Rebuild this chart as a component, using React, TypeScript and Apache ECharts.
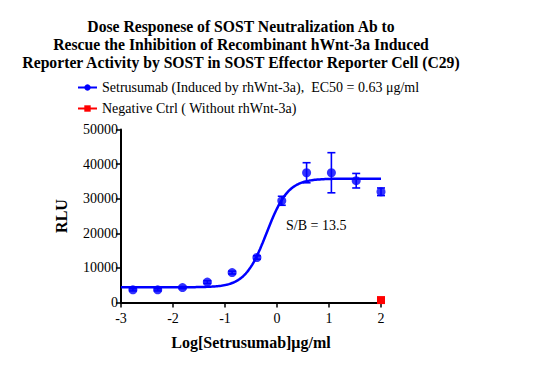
import React, { useEffect, useRef } from "react";
import * as echarts from "echarts";

const logDose = [-2.771, -2.294, -1.817, -1.34, -0.863, -0.386, 0.092, 0.569, 1.046, 1.523, 2.0];
const rluMean = [3650, 3650, 4300, 5900, 8650, 13000, 29400, 37500, 37500, 35200, 32000];
const rluErr = [300, 300, 300, 400, 400, 500, 1300, 2900, 5800, 2100, 1100];
const negCtrlX = [2.0];
const negCtrlY = [700];
// 4PL fit parameters
const fitBottom = 4400;
const fitTop = 35800;
const fitLogEC50 = -0.2;
const fitHill = 2.1;
const curveRange = [-3, 2];
const xTicks = [-3, -2, -1, 0, 1, 2];
const yTicks = [0, 10000, 20000, 30000, 40000, 50000];

const FONT = "'Liberation Serif', 'Times New Roman', serif";
const BLUE = "#0000ff";
const RED = "#ff0000";
const NAME1 = "Setrusumab (Induced by rhWnt-3a),  EC50 = 0.63 μg/ml";
const NAME2 = "Negative Ctrl ( Without rhWnt-3a)";

function fitCurve() {
  const pts: number[][] = [];
  const n = 200;
  for (let i = 0; i <= n; i++) {
    const x = curveRange[0] + ((curveRange[1] - curveRange[0]) * i) / n;
    const y = fitBottom + (fitTop - fitBottom) / (1 + Math.pow(10, (fitLogEC50 - x) * fitHill));
    pts.push([x, y]);
  }
  return pts;
}

export default function App() {
  const ref = useRef<HTMLDivElement>(null);
  useEffect(() => {
    document.body.style.margin = "0";
    if (!ref.current) return;
    const chart = echarts.init(ref.current, null, { renderer: "svg" });
    const errData = logDose.map((x, i) => [x, rluMean[i] - rluErr[i], rluMean[i] + rluErr[i]]);
    chart.setOption({
      animation: false,
      backgroundColor: "#ffffff",
      title: {
        text: "Dose Responese of SOST Neutralization Ab to\nRescue the Inhibition of Recombinant hWnt-3a Induced\nReporter Activity by SOST in SOST Effector Reporter Cell (C29)",
        left: 236,
        top: 12,
        textAlign: "center",
        textStyle: { fontFamily: FONT, fontWeight: "bold", fontSize: 15.7, lineHeight: 18, color: "#000" },
      },
      legend: {
        orient: "vertical",
        left: 72,
        top: 75,
        itemWidth: 19,
        itemHeight: 8,
        itemGap: 6,
        textStyle: { fontFamily: FONT, fontSize: 14, lineHeight: 15, color: "#000" },
        data: [{ name: NAME1 }, { name: NAME2 }],
      },
      grid: { left: 121, right: 178, top: 129.5, bottom: 63.5 },
      xAxis: {
        type: "value",
        min: -3,
        max: 2,
        interval: 1,
        name: "Log[Setrusumab]μg/ml",
        nameLocation: "middle",
        nameGap: 32,
        nameTextStyle: { fontFamily: FONT, fontWeight: "bold", fontSize: 16, color: "#000" },
        axisLine: { onZero: false, lineStyle: { color: "#000", width: 2 } },
        axisTick: { show: true, length: 5, lineStyle: { color: "#000", width: 1.5 } },
        axisLabel: {
          fontFamily: FONT,
          fontSize: 14,
          color: "#000",
          margin: 9,
          formatter: (v: number) => (xTicks.includes(v) ? String(v) : ""),
        },
        splitLine: { show: false },
      },
      yAxis: {
        type: "value",
        min: 0,
        max: 50000,
        interval: 10000,
        name: "RLU",
        nameLocation: "middle",
        nameGap: 52,
        nameTextStyle: { fontFamily: FONT, fontWeight: "bold", fontSize: 16, color: "#000" },
        axisLine: { show: true, onZero: false, lineStyle: { color: "#000", width: 2 } },
        axisTick: { show: true, length: 5, lineStyle: { color: "#000", width: 1.5 } },
        axisLabel: {
          fontFamily: FONT,
          fontSize: 14,
          color: "#000",
          margin: 3,
          formatter: (v: number) => (yTicks.includes(v) ? String(v) : ""),
        },
        splitLine: { show: false },
      },
      series: [
        {
          name: NAME1,
          type: "line",
          data: fitCurve(),
          showSymbol: false,
          symbol: "circle",
          symbolSize: 6,
          lineStyle: { color: BLUE, width: 2.5 },
          itemStyle: { color: BLUE },
          z: 2,
        },
        {
          type: "custom",
          data: errData,
          z: 3,
          renderItem: (params: any, api: any) => {
            const x = api.value(0);
            const lo = api.coord([x, api.value(1)]);
            const hi = api.coord([x, api.value(2)]);
            const w = 4;
            const style = { stroke: BLUE, lineWidth: 1.6 };
            return {
              type: "group",
              children: [
                { type: "line", shape: { x1: lo[0], y1: lo[1], x2: hi[0], y2: hi[1] }, style },
                { type: "line", shape: { x1: lo[0] - w, y1: lo[1], x2: lo[0] + w, y2: lo[1] }, style },
                { type: "line", shape: { x1: hi[0] - w, y1: hi[1], x2: hi[0] + w, y2: hi[1] }, style },
              ],
            };
          },
        },
        {
          name: NAME1,
          type: "scatter",
          data: logDose.map((x, i) => [x, rluMean[i]]),
          symbol: "circle",
          symbolSize: 9,
          itemStyle: { color: BLUE },
          z: 4,
        },
        {
          name: NAME2,
          type: "line",
          data: negCtrlX.map((x, i) => [x, negCtrlY[i]]),
          symbol: "rect",
          symbolSize: 8,
          showSymbol: true,
          lineStyle: { color: RED, width: 2.5 },
          itemStyle: { color: RED },
          z: 5,
        },
      ],
      graphic: [
        {
          type: "text",
          left: 286,
          top: 218,
          style: { text: "S/B = 13.5", fontFamily: FONT, fontSize: 14, fill: "#000" },
        },
      ],
    });
    return () => chart.dispose();
  }, []);
  return <div ref={ref} style={{ width: 559, height: 366 }} />;
}
